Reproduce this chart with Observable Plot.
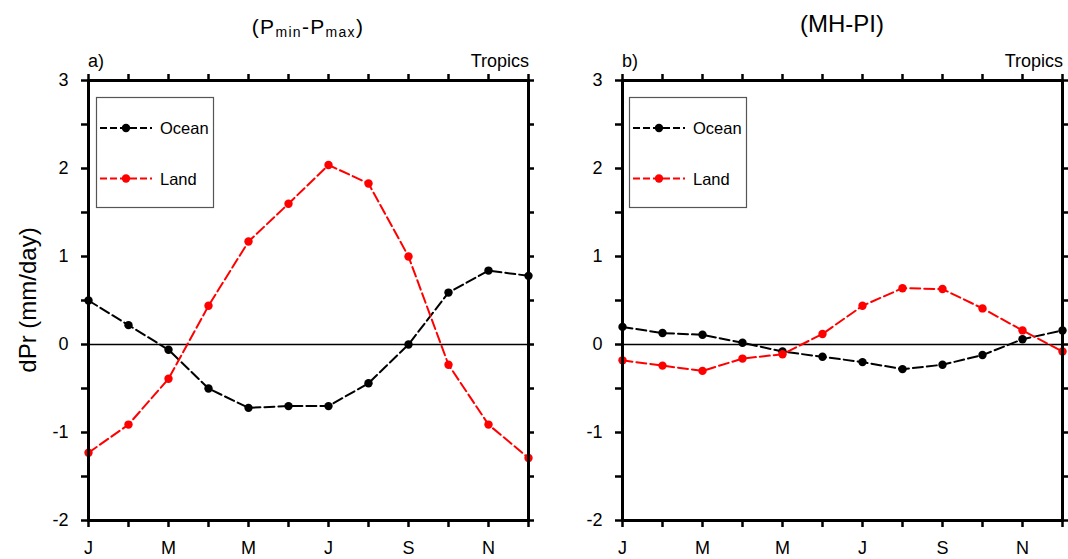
<!DOCTYPE html>
<html><head><meta charset="utf-8">
<script src="https://cdn.jsdelivr.net/npm/d3@7"></script>
<script src="https://cdn.jsdelivr.net/npm/@observablehq/plot@0.6"></script>
<style>
html,body{margin:0;padding:0;background:#fff;overflow:hidden}
#fig{position:relative;width:1068px;height:559px;font-family:"Liberation Sans",Arial,Helvetica,sans-serif}
.panel{position:absolute;top:0;width:534px;height:559px}
.panel > svg{position:absolute;left:0;top:0}
</style></head><body><div id="fig"></div>
<script>
// ---- data ----
const months = [1,2,3,4,5,6,7,8,9,10,11,12];
const monthLetters = ["J","F","M","A","M","J","J","A","S","O","N","D"];
const labelMonths = [1,3,5,7,9,11];
const yTicks = [-2,-1.5,-1,-0.5,0,0.5,1,1.5,2,2.5,3];
const yLabelTicks = [-2,-1,0,1,2,3];
const seriesNames = ["Ocean","Land"];
const seriesColors = ["#000000","#ff0000"];
const oceanA = [0.50, 0.22, -0.06, -0.50, -0.72, -0.70, -0.70, -0.44, 0.00, 0.59, 0.84, 0.78];
const landA  = [-1.23, -0.91, -0.39, 0.44, 1.17, 1.60, 2.04, 1.83, 1.00, -0.23, -0.91, -1.29];
const oceanB = [0.20, 0.13, 0.11, 0.02, -0.08, -0.14, -0.20, -0.28, -0.23, -0.12, 0.06, 0.16];
const landB  = [-0.18, -0.24, -0.30, -0.16, -0.11, 0.12, 0.44, 0.64, 0.63, 0.41, 0.16, -0.08];
const panelLetters = ["a)","b)"];
const regionLabel = "Tropics";
const yLabel = "dPr (mm/day)";

const FONT = '"Liberation Sans",Arial,Helvetica,sans-serif';
const DASH = "10,4";
const fig = d3.select("#fig");

function makePanel(idx, ocean, land, titleFn) {
  const data = months.flatMap((m,i)=>[
    {month:m, value:ocean[i], series:"Ocean"},
    {month:m, value:land[i], series:"Land"}
  ]);
  const chart = Plot.plot({
    width:534, height:559, marginLeft:88, marginRight:6, marginTop:80, marginBottom:39,
    x:{domain:[1,12], axis:null},
    y:{domain:[-2,3], axis:null},
    color:{domain:seriesNames, range:seriesColors},
    style:{fontFamily:FONT, fontSize:"18px", background:"transparent", color:"black"},
    marks:[
      Plot.ruleY([0], {stroke:"black", strokeWidth:1.6}),
      Plot.line(data, {x:"month", y:"value", z:"series", stroke:"series", strokeWidth:2, strokeDasharray:DASH}),
      Plot.dot(data, {x:"month", y:"value", fill:"series", r:4.2}),
      Plot.frame({stroke:"black", strokeWidth:3}),
      Plot.axisX(months, {anchor:"bottom", tickSize:7, strokeWidth:2.5, tickFormat:()=>"", label:null}),
      Plot.axisX(months, {anchor:"top", tickSize:7, strokeWidth:2.5, tickFormat:()=>"", label:null}),
      Plot.axisX(labelMonths, {anchor:"bottom", tickSize:0, tickPadding:21, tickFormat:d=>monthLetters[d-1], label:null, fontSize:18}),
      Plot.axisY(yTicks, {anchor:"left", tickSize:7, strokeWidth:2.5, tickFormat:()=>"", label:null}),
      Plot.axisY(yTicks, {anchor:"right", tickSize:7, strokeWidth:2.5, tickFormat:()=>"", label:null}),
      Plot.axisY(yLabelTicks, {anchor:"left", tickSize:0, tickPadding:20, tickFormat:d=>String(d), label:null, fontSize:18})
    ]
  });
  const div = fig.append("div").attr("class","panel").style("left", (idx*534)+"px");
  div.node().appendChild(chart);
  const svg = div.append("svg").attr("width",534).attr("height",559)
    .style("font-family",FONT).style("pointer-events","none");
  titleFn(svg);
  svg.append("text").attr("x",88).attr("y",67).attr("font-size",18).text(panelLetters[idx]);
  svg.append("text").attr("x",529).attr("y",67).attr("font-size",18).attr("text-anchor","end").text(regionLabel);
  // legend
  const bx = idx === 0 ? 96 : 95, by = 97;
  svg.append("rect").attr("x",bx+0.5).attr("y",by+0.5).attr("width",117).attr("height",110)
    .attr("fill","white").attr("stroke","#555").attr("stroke-width",1.2);
  seriesNames.forEach((name,i)=>{
    const yy = by + 31 + i*50.5;
    svg.append("line").attr("x1",bx+4).attr("x2",bx+56).attr("y1",yy).attr("y2",yy)
      .attr("stroke",seriesColors[i]).attr("stroke-width",2).attr("stroke-dasharray","7,3");
    svg.append("circle").attr("cx",bx+30).attr("cy",yy).attr("r",4.2).attr("fill",seriesColors[i]);
    svg.append("text").attr("x",bx+64).attr("y",yy+6).attr("font-size",16.5).text(name);
  });
  return svg;
}

const svgA = makePanel(0, oceanA, landA, svg=>{
  const t = svg.append("text").attr("x",308).attr("y",34).attr("text-anchor","middle")
    .attr("font-size",21).attr("letter-spacing","1.3px");
  t.append("tspan").text("(P");
  t.append("tspan").attr("font-size",14).attr("dy",3).text("min");
  t.append("tspan").attr("dy",-3).text("-P");
  t.append("tspan").attr("font-size",14).attr("dy",3).text("max");
  t.append("tspan").attr("dy",-3).text(")");
});
svgA.append("text").attr("transform","translate(35.5,300) rotate(-90)")
  .attr("text-anchor","middle").attr("font-size",24).text(yLabel);

makePanel(1, oceanB, landB, svg=>{
  svg.append("text").attr("x",308).attr("y",32).attr("text-anchor","middle")
    .attr("font-size",24).text("(MH-PI)");
});
</script></body></html>
